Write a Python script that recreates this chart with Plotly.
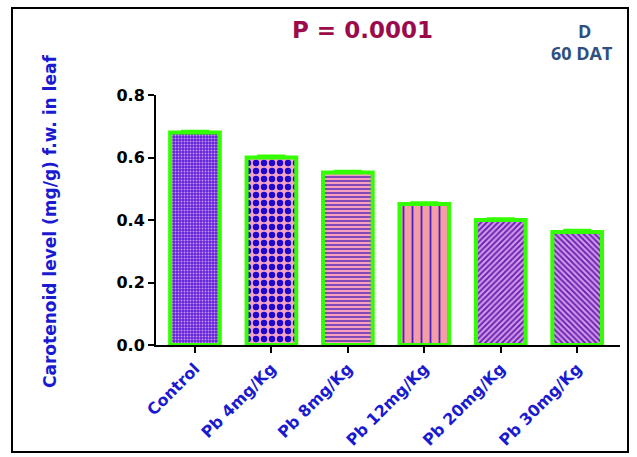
import plotly.graph_objects as go

# Carotenoid content in leaf at 60 DAT under lead (Pb) treatments
categories = ["Control", "Pb 4mg/Kg", "Pb 8mg/Kg", "Pb 12mg/Kg", "Pb 20mg/Kg", "Pb 30mg/Kg"]
carotenoid = [0.68, 0.60, 0.552, 0.451, 0.40, 0.362]
sem = [0.004, 0.005, 0.004, 0.004, 0.004, 0.005]
y_ticks = [0.0, 0.2, 0.4, 0.6, 0.8]

# fill pattern per treatment: (shape, fg colour, bg colour, size, solidity)
patterns = [
    (".", "#d58ef2", "#5a26d8", 3, 0.35),
    (".", "#1b08cc", "#f4a2c6", 8, 0.5),
    ("-", "#5222b4", "#f6a0c0", 4, 0.35),
    ("|", "#4a20c4", "#f39ea6", 9, 0.2),
    ("/", "#5622aa", "#d992ea", 4, 0.45),
    ("\\", "#5622aa", "#d992ea", 4, 0.45),
]

W, H = 637, 457
L, R, T, B = 156, 17, 95, 112
pw, ph = W - L - R, H - T - B

def px_x(px):
    return (px - L) / pw

def px_y(py):
    return (H - B - py) / ph

SANS = "DejaVu Sans"

fig = go.Figure()
for cat, val, err, (shape, fg, bg, size, sol) in zip(categories, carotenoid, sem, patterns):
    fig.add_trace(go.Bar(
        x=[cat], y=[val], width=0.65,
        marker=dict(
            color=bg,
            line=dict(color="#33ff00", width=4),
            pattern=dict(shape=shape, fgcolor=fg, bgcolor=bg, size=size,
                         solidity=sol, fillmode="replace"),
        ),
        error_y=dict(type="data", array=[err], arrayminus=[0], symmetric=False,
                     color="#33ff00", thickness=3, width=14),
        showlegend=False,
    ))

fig.update_layout(
    width=W, height=H,
    margin=dict(l=L, r=R, t=T, b=B),
    paper_bgcolor="white", plot_bgcolor="white",
    font=dict(family=SANS, size=15, color="black"),
    xaxis=dict(
        type="category", range=[-0.51, 5.56], automargin=False,
        showline=True, linecolor="black", linewidth=2,
        ticks="outside", ticklen=6, tickwidth=2, tickcolor="black",
        tickangle=-45,
        tickfont=dict(family=SANS, size=16, color="#1a1ad0", weight="bold"),
        showgrid=False, zeroline=False,
    ),
    yaxis=dict(
        range=[0, 0.8], tickvals=y_ticks, tickformat=".1f", automargin=False,
        showline=True, linecolor="black", linewidth=2,
        ticks="outside", ticklen=6, tickwidth=2, tickcolor="black",
        tickfont=dict(family=SANS, size=16, color="black", weight="bold"),
        showgrid=False, zeroline=False,
    ),
    shapes=[dict(type="rect", xref="paper", yref="paper",
                 x0=px_x(12), x1=px_x(628), y0=px_y(452), y1=px_y(8),
                 line=dict(color="black", width=2), fillcolor="rgba(0,0,0,0)",
                 layer="below")],
    annotations=[
        dict(text="Carotenoid level (mg/g) f.w. in leaf", textangle=-90,
             xref="paper", yref="paper", x=px_x(50), y=px_y(222),
             xanchor="center", yanchor="middle", showarrow=False,
             font=dict(family=SANS, size=17, color="#1a1ad0", weight="bold")),
        dict(text="P = 0.0001",
             xref="paper", yref="paper", x=px_x(362), y=px_y(30),
             xanchor="center", yanchor="middle", showarrow=False,
             font=dict(family=SANS, size=23, color="#9b0a4a", weight="bold")),
        dict(text="D",
             xref="paper", yref="paper", x=px_x(584), y=px_y(31),
             xanchor="center", yanchor="middle", showarrow=False,
             font=dict(family="Open Sans", size=18, color="#2f4f7f", weight="bold")),
        dict(text="60 DAT",
             xref="paper", yref="paper", x=px_x(582), y=px_y(53),
             xanchor="center", yanchor="middle", showarrow=False,
             font=dict(family="Open Sans", size=18, color="#2f4f7f", weight="bold")),
    ],
)

fig.write_html("out.html")
